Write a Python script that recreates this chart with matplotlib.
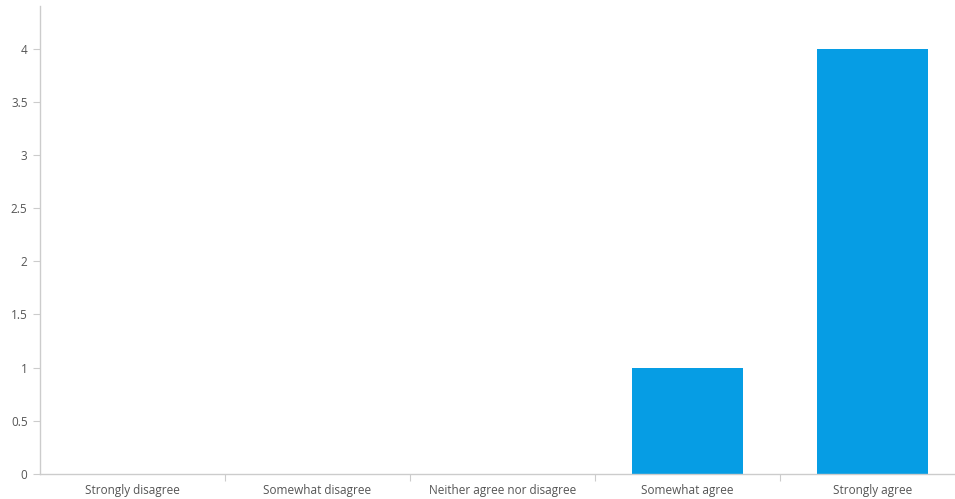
import matplotlib
matplotlib.use("Agg")
import matplotlib.pyplot as plt
import numpy as np

categories = ["Strongly disagree", "Somewhat disagree", "Neither agree nor disagree",
              "Somewhat agree", "Strongly agree"]
counts = [0, 0, 0, 1, 4]
y_ticks = [0, 0.5, 1, 1.5, 2, 2.5, 3, 3.5, 4]
y_tick_labels = ["0", "0.5", "1", "1.5", "2", "2.5", "3", "3.5", "4"]

plt.rcParams['font.family'] = ['Open Sans', 'DejaVu Sans']

fig = plt.figure(figsize=(9.55, 4.99), dpi=100)
# axes run a little past the right edge of the canvas
ax = fig.add_axes([40 / 955, 25 / 499, 925 / 955, 468 / 499])

x = np.arange(len(categories))
ax.bar(x, counts, width=0.6, color="#069de4", zorder=2)

ax.set_xlim(-0.5, len(categories) - 0.5)
ax.set_ylim(0, 4.4)

ax.set_yticks(y_ticks)
ax.set_yticklabels(y_tick_labels)
ax.tick_params(axis='y', length=5, width=0.8, color="#cccccc", labelcolor="#555555",
               labelsize=8.5, pad=4)

# category labels centred, tick marks on the boundaries
ax.set_xticks(x)
ax.set_xticklabels(categories)
ax.tick_params(axis='x', length=0, labelcolor="#555555", labelsize=8.5, pad=7)
ax.set_xticks(np.arange(0.5, len(categories) - 0.5, 1), minor=True)
ax.tick_params(axis='x', which='minor', length=5, width=0.8, color="#cccccc", direction='out')

for side in ["top", "right"]:
    ax.spines[side].set_visible(False)
for side in ["left", "bottom"]:
    ax.spines[side].set_color("#cccccc")
    ax.spines[side].set_linewidth(1)

fig.savefig("out.png", dpi=100)
